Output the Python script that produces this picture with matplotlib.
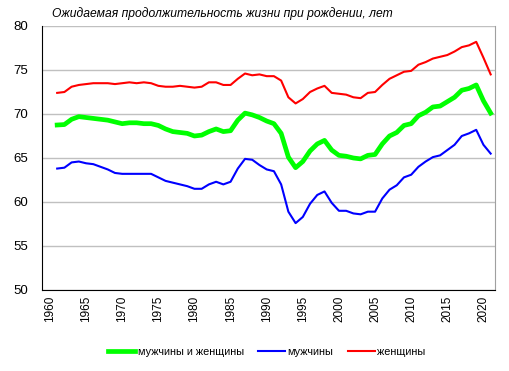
import numpy as np
import matplotlib.pyplot as plt

years = list(range(1961, 2022))

# оба пола
total = [68.75, 68.8, 69.4, 69.7, 69.6, 69.5, 69.4, 69.3, 69.1, 68.9,
         69.0, 69.0, 68.9, 68.9, 68.7, 68.3, 68.0, 67.9, 67.8, 67.5,
         67.6, 68.0, 68.3, 68.0, 68.1, 69.3, 70.1, 69.9, 69.6, 69.2,
         68.9, 67.8, 65.1, 63.9, 64.6, 65.8, 66.6, 67.0, 65.9, 65.3,
         65.2, 65.0, 64.9, 65.3, 65.4, 66.6, 67.5, 67.9, 68.7, 68.9,
         69.8, 70.2, 70.8, 70.9, 71.4, 71.9, 72.7, 72.9, 73.3, 71.5, 70.1]
# мужчины
men = [63.8, 63.9, 64.5, 64.6, 64.4, 64.3, 64.0, 63.7, 63.3, 63.2,
       63.2, 63.2, 63.2, 63.2, 62.8, 62.4, 62.2, 62.0, 61.8, 61.5,
       61.5, 62.0, 62.3, 62.0, 62.3, 63.8, 64.9, 64.8, 64.2, 63.7,
       63.5, 62.0, 58.9, 57.6, 58.3, 59.8, 60.8, 61.2, 59.9, 59.0,
       59.0, 58.7, 58.6, 58.9, 58.9, 60.4, 61.4, 61.9, 62.8, 63.1,
       64.0, 64.6, 65.1, 65.3, 65.9, 66.5, 67.5, 67.8, 68.2, 66.5, 65.5]
# женщины
women = [72.4, 72.5, 73.1, 73.3, 73.4, 73.5, 73.5, 73.5, 73.4, 73.5,
         73.6, 73.5, 73.6, 73.5, 73.2, 73.1, 73.1, 73.2, 73.1, 73.0,
         73.1, 73.6, 73.6, 73.3, 73.3, 74.0, 74.6, 74.4, 74.5, 74.3,
         74.3, 73.8, 71.9, 71.2, 71.7, 72.5, 72.9, 73.2, 72.4, 72.3,
         72.2, 71.9, 71.8, 72.4, 72.5, 73.3, 74.0, 74.4, 74.8, 74.9,
         75.6, 75.9, 76.3, 76.5, 76.7, 77.1, 77.6, 77.8, 78.2, 76.4, 74.5]

xticks = list(range(1960, 2021, 5))
yticks = [50, 55, 60, 65, 70, 75, 80]

plt.rcParams['font.family'] = ['Liberation Sans', 'DejaVu Sans']

W, H = 509, 371
fig = plt.figure(figsize=(W / 100, H / 100), dpi=100)
ax = fig.add_axes([42 / W, (H - 290) / H, (495 - 42) / W, (290 - 26) / H])

ax.plot(years, total, color='#00ff00', lw=3.4, label='мужчины и женщины', zorder=3)
ax.plot(years, men, color='#0000ff', lw=1.5, label='мужчины', zorder=4)
ax.plot(years, women, color='#ff0000', lw=1.5, label='женщины', zorder=4)

ax.set_ylim(50, 80)
ax.set_xlim(1958.9, 2021.6)
ax.set_yticks(yticks)
ax.set_xticks(xticks)
ax.set_xticklabels([str(x) for x in xticks], rotation=90, fontsize=8.5)
ax.tick_params(axis='y', labelsize=9.5, length=0, pad=10)
ax.tick_params(axis='x', length=0, pad=4)
ax.yaxis.grid(True, color='#c0c0c0', lw=1)
ax.set_axisbelow(True)
ax.spines['top'].set_visible(False)
ax.spines['right'].set_color('#a0a0a0')
ax.spines['left'].set_color('black')
ax.spines['bottom'].set_color('black')

fig.text(52 / W, 1 - 14 / H, 'Ожидаемая продолжительность жизни при рождении, лет',
         fontsize=8.7, style='italic', va='center', ha='left')

fig.legend(loc='center', bbox_to_anchor=(0.524, 1 - 352 / H), ncol=3, frameon=False,
           fontsize=7.8, handlelength=2.5, handletextpad=0.25, columnspacing=1.3)

fig.savefig('out.png', dpi=100)
